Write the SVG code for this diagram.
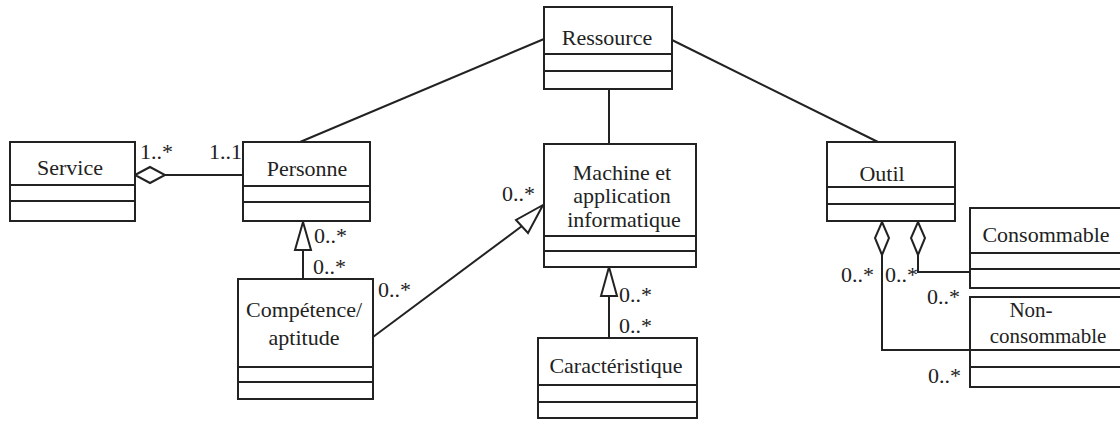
<svg xmlns="http://www.w3.org/2000/svg" width="1120" height="422" viewBox="0 0 1120 422">
<style>
.box{fill:#fff;stroke:#222;stroke-width:2}
.div{stroke:#222;stroke-width:2}
.ln{fill:none;stroke:#222;stroke-width:2}
.hd{fill:#fff;stroke:#222;stroke-width:2}
text{font-family:"Liberation Serif","Times New Roman",serif;font-size:22px;fill:#222}
.c{text-anchor:middle}
.s{font-size:21px}
</style>
<rect width="1120" height="422" fill="#fff"/>
<g id="connectors">
<line class="ln" x1="300" y1="142" x2="544" y2="39"/>
<line class="ln" x1="609" y1="89" x2="609" y2="144"/>
<line class="ln" x1="672" y1="40" x2="878" y2="142"/>
<line class="ln" x1="165" y1="175" x2="243" y2="175"/>
<polygon class="hd" points="135,175 150,167 165,175 150,183"/>
<line class="ln" x1="303" y1="250" x2="303" y2="279"/>
<polygon class="hd" points="303,222 295,250 311,250"/>
<line class="ln" x1="373" y1="337" x2="522" y2="226"/>
<polygon class="hd" points="543,205 516,220 528,233"/>
<line class="ln" x1="609" y1="296" x2="609" y2="338"/>
<polygon class="hd" points="609,267 601,296 617,296"/>
<polyline class="ln" points="918,255 918,272 970,272"/>
<polygon class="hd" points="918,222 925,238 918,255 911,238"/>
<polyline class="ln" points="882,255 882,350 970,350"/>
<polygon class="hd" points="882,222 889,238 882,255 875,238"/>
<text x="140" y="159">1..*</text>
<text x="209" y="159">1..1</text>
<text x="314" y="243">0..*</text>
<text x="313" y="274">0..*</text>
<text x="378" y="297">0..*</text>
<text x="502" y="201">0..*</text>
<text x="619" y="302">0..*</text>
<text x="619" y="333">0..*</text>
<text x="841" y="282">0..*</text>
<text x="885" y="282">0..*</text>
<text x="927" y="304">0..*</text>
<text x="928" y="383">0..*</text>
</g>
<g id="ressource">
<rect class="box" x="544" y="7" width="128" height="82"/>
<line class="div" x1="544" y1="54" x2="672" y2="54"/>
<line class="div" x1="544" y1="71" x2="672" y2="71"/>
<text class="c" x="607" y="45">Ressource</text>
</g>
<g id="service">
<rect class="box" x="10" y="142" width="125" height="79"/>
<line class="div" x1="10" y1="185" x2="135" y2="185"/>
<line class="div" x1="10" y1="201" x2="135" y2="201"/>
<text class="c" x="70" y="175">Service</text>
</g>
<g id="personne">
<rect class="box" x="243" y="142" width="127" height="79"/>
<line class="div" x1="243" y1="186" x2="370" y2="186"/>
<line class="div" x1="243" y1="202" x2="370" y2="202"/>
<text class="c" x="307" y="176">Personne</text>
</g>
<g id="competence">
<rect class="box" x="238" y="279" width="135" height="120"/>
<line class="div" x1="238" y1="367" x2="373" y2="367"/>
<line class="div" x1="238" y1="382" x2="373" y2="382"/>
<text class="c" x="304" y="317">Compétence/</text>
<text class="c" x="304" y="345">aptitude</text>
</g>
<g id="machine">
<rect class="box" x="544" y="144" width="152" height="123"/>
<line class="div" x1="544" y1="236" x2="696" y2="236"/>
<line class="div" x1="544" y1="251" x2="696" y2="251"/>
<text class="c" x="622" y="180">Machine et</text>
<text class="c" x="622" y="203">application</text>
<text class="c" x="624" y="227">informatique</text>
</g>
<g id="caracteristique">
<rect class="box" x="538" y="338" width="159" height="80"/>
<line class="div" x1="538" y1="385" x2="697" y2="385"/>
<line class="div" x1="538" y1="402" x2="697" y2="402"/>
<text class="c" x="616" y="373">Caractéristique</text>
</g>
<g id="outil">
<rect class="box" x="827" y="142" width="128" height="79"/>
<line class="div" x1="827" y1="187" x2="955" y2="187"/>
<line class="div" x1="827" y1="204" x2="955" y2="204"/>
<text class="c" x="882" y="181">Outil</text>
</g>
<g id="consommable">
<rect class="box" x="970" y="208" width="160" height="80"/>
<line class="div" x1="970" y1="253" x2="1130" y2="253"/>
<line class="div" x1="970" y1="269" x2="1130" y2="269"/>
<text class="c" x="1046" y="242">Consommable</text>
</g>
<g id="non-consommable">
<rect class="box" x="970" y="297" width="160" height="90"/>
<line class="div" x1="970" y1="350" x2="1130" y2="350"/>
<line class="div" x1="970" y1="367" x2="1130" y2="367"/>
<text class="c s" x="1031" y="317">Non-</text>
<text class="c s" x="1048" y="343">consommable</text>
</g>
</svg>
